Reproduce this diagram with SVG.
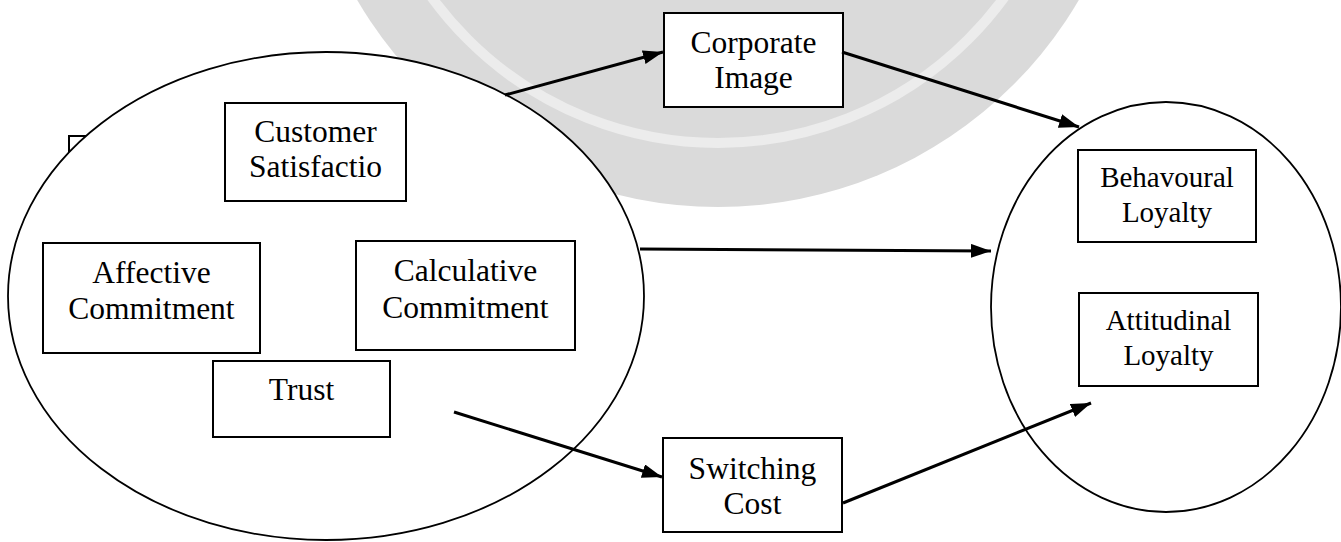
<svg xmlns="http://www.w3.org/2000/svg" width="1341" height="542" viewBox="0 0 1341 542">
<style>
  .box { fill: #ffffff; stroke: #000000; stroke-width: 2; }
  .oval { fill: #ffffff; stroke: #000000; stroke-width: 1.8; }
  .conn { stroke: #000000; stroke-width: 3; fill: none; marker-end: url(#arrow); }
  text { fill: #000000; text-anchor: middle; }
</style>
<defs>
  <marker id="arrow" markerUnits="userSpaceOnUse" markerWidth="22" markerHeight="16" refX="20" refY="7" orient="auto">
    <path d="M0,0 L20,7 L0,14 z" fill="#000000"/>
  </marker>
</defs>
<rect width="1341" height="542" fill="#ffffff"/>

<g id="watermark">
  <circle cx="718" cy="-211" r="418" fill="#dadada"/>
  <circle cx="718" cy="-211" r="354" fill="none" stroke="#ececec" stroke-width="10"/>
</g>

<g id="hidden-box">
  <rect class="box" x="69" y="136" width="60" height="70"/>
</g>

<g id="driver-group">
  <ellipse class="oval" cx="326" cy="296" rx="318" ry="244"/>
</g>

<g id="loyalty-group">
  <ellipse class="oval" cx="1166" cy="307" rx="175" ry="205"/>
</g>

<g font-family="'Liberation Serif', Tinos, 'Times New Roman', 'DejaVu Serif', serif" font-size="31.5">
<g id="customer-satisfaction">
  <rect class="box" x="225" y="103" width="181" height="98"/>
  <text x="315.5" y="142">Customer</text>
  <text x="315.5" y="177">Satisfactio</text>
</g>

<g id="affective-commitment">
  <rect class="box" x="43" y="243" width="217" height="110"/>
  <text x="151.5" y="283">Affective</text>
  <text x="151.5" y="319">Commitment</text>
</g>

<g id="calculative-commitment">
  <rect class="box" x="356" y="241" width="219" height="109"/>
  <text x="465.5" y="281">Calculative</text>
  <text x="465.5" y="318">Commitment</text>
</g>

<g id="trust">
  <rect class="box" x="213" y="361" width="177" height="76"/>
  <text x="301.5" y="400">Trust</text>
</g>

<g id="corporate-image">
  <rect class="box" x="664" y="13" width="179" height="94"/>
  <text x="753.5" y="53">Corporate</text>
  <text x="753.5" y="88">Image</text>
</g>

<g id="switching-cost">
  <rect class="box" x="663" y="438" width="179" height="94"/>
  <text x="752.5" y="479">Switching</text>
  <text x="752.5" y="514">Cost</text>
</g>

<g id="behavioural-loyalty" font-size="29">
  <rect class="box" x="1078" y="150" width="178" height="92"/>
  <text x="1167" y="187">Behavoural</text>
  <text x="1167" y="222">Loyalty</text>
</g>

<g id="attitudinal-loyalty" font-size="29">
  <rect class="box" x="1079" y="293" width="179" height="93"/>
  <text x="1168.5" y="330">Attitudinal</text>
  <text x="1168.5" y="365">Loyalty</text>
</g>
</g>

<g id="connectors">
  <line class="conn" x1="505" y1="95" x2="663" y2="52"/>
  <line class="conn" x1="842" y1="52" x2="1079" y2="127"/>
  <line class="conn" x1="640" y1="249" x2="991" y2="251"/>
  <line class="conn" x1="454" y1="412" x2="662" y2="477"/>
  <line class="conn" x1="843" y1="503" x2="1091" y2="403"/>
</g>
</svg>
